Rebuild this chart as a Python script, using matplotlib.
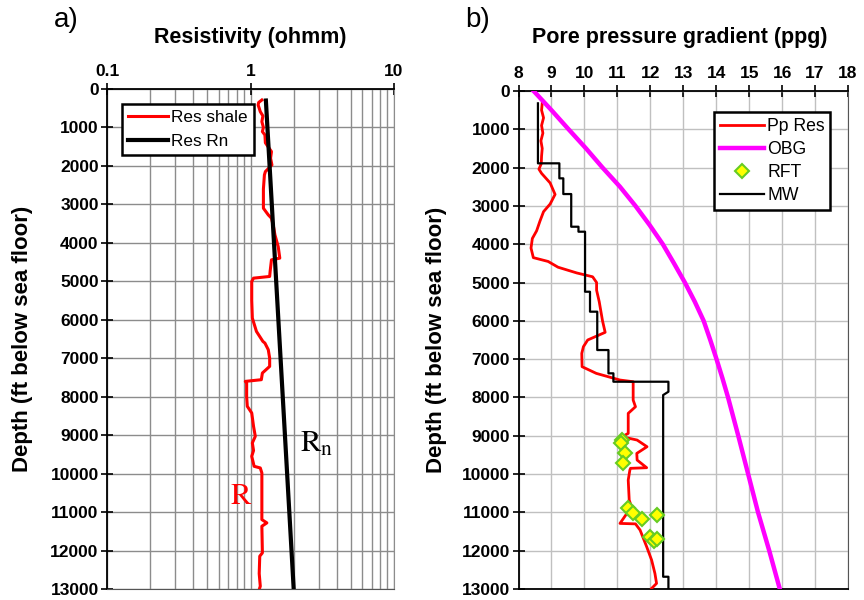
import numpy as np
import matplotlib
matplotlib.use("Agg")
import matplotlib.pyplot as plt
from matplotlib.ticker import LogLocator, NullFormatter, FixedLocator

plt.rcParams['font.family'] = ['Liberation Sans', 'DejaVu Sans']
plt.rcParams['mathtext.fontset'] = 'stix'

# ==============================
# Panel a) resistivity data
# ==============================
res_depth = [286, 350, 416, 500, 589, 700, 850, 1000, 1108, 1195, 1400, 1628, 1800, 1974,
             2147, 2234, 2600, 3100, 3273, 3359, 3600, 3792, 4100, 4398, 4442, 4745, 4874,
             4918, 5004, 5500, 5957, 6303, 6563, 6606, 6779, 7000, 7212, 7385, 7558,
             7602, 7645, 8000, 8251, 8424, 8771, 9030, 9203, 9400, 9550, 9810, 9853,
             9983, 10500, 11195, 11281, 11368, 12061, 12147, 12600, 12926, 12970]
res_shale = [1.20, 1.14, 1.13, 1.15, 1.17, 1.22, 1.20, 1.23, 1.21, 1.26, 1.27, 1.40, 1.38, 1.41,
             1.27, 1.25, 1.23, 1.23, 1.33, 1.40, 1.45, 1.48, 1.56, 1.60, 1.40, 1.37, 1.36,
             1.05, 1.02, 1.02, 1.03, 1.10, 1.22, 1.26, 1.33, 1.36, 1.36, 1.21, 1.19,
             0.92, 0.94, 0.94, 0.95, 1.02, 1.05, 1.08, 1.03, 1.05, 1.02, 1.06, 1.17,
             1.20, 1.20, 1.20, 1.30, 1.20, 1.21, 1.16, 1.15, 1.17, 1.16]

rn_depth = [300, 13000]
res_rn = [1.28, 2.00]

# ==============================
# Panel b) pore pressure data
# ==============================
pp_depth = [320, 500, 700, 900, 1100, 1300, 1500, 1700, 1900, 2040, 2150, 2400, 2700, 2950,
            3150, 3400, 3650, 3850, 4100, 4350, 4450, 4600, 4750, 4850, 5000, 5200, 5500,
            6000, 6300, 6500, 6675, 6849, 7197, 7371, 7545, 7589, 8068, 8242, 8415,
            8938, 9025, 9112, 9286, 9460, 9634, 9834, 9850, 9895, 10156, 10679, 10853,
            11288, 11300, 11462, 11897, 12245, 12593, 12854, 12984]
pp_res = [8.72, 8.70, 8.76, 8.70, 8.74, 8.68, 8.72, 8.70, 8.69, 8.62, 8.70, 8.96, 9.11, 8.96,
          8.76, 8.65, 8.55, 8.42, 8.38, 8.45, 8.90, 9.20, 9.77, 10.25, 10.37, 10.37, 10.45,
          10.55, 10.63, 10.10, 9.97, 9.92, 9.93, 10.36, 11.08, 11.48, 11.48, 11.55, 11.33,
          11.33, 11.14, 11.60, 11.90, 11.59, 11.60, 11.89, 11.40, 11.38, 11.33, 11.36, 11.43,
          11.08, 11.55, 11.69, 11.89, 12.04, 12.14, 12.19, 12.04]

obg_depth = [0, 500, 1000, 1500, 2000, 2500, 3000, 3500, 4000, 4500, 5000, 5500, 6000,
             6500, 7000, 7500, 8000, 9000, 10000, 11000, 12000, 13000]
obg = [8.46, 9.00, 9.52, 10.05, 10.55, 11.08, 11.55, 11.98, 12.38, 12.72, 13.05, 13.35,
       13.62, 13.82, 14.01, 14.19, 14.36, 14.67, 14.97, 15.27, 15.61, 15.93]

mw_depth = [322, 1888, 1888, 2280, 2280, 2690, 2690, 3543, 3543, 3673, 3673, 5240, 5240,
            5761, 5761, 6762, 6762, 7370, 7370, 7589, 7589, 7850, 7937, 12680, 12680, 13000]
mw = [8.59, 8.59, 9.24, 9.24, 9.36, 9.36, 9.60, 9.60, 9.82, 9.82, 10.02, 10.02, 10.17,
      10.17, 10.39, 10.39, 10.73, 10.73, 10.88, 10.88, 12.55, 12.55, 12.39, 12.39, 12.55, 12.55]

rft_depth = [9112, 9199, 9460, 9721, 10896, 11027, 11183, 11070, 11653, 11741, 11700]
rft = [11.13, 11.10, 11.23, 11.16, 11.33, 11.48, 11.74, 12.21, 11.99, 12.11, 12.20]

depth_ticks = np.arange(0, 14000, 1000)

fig = plt.figure(figsize=(8.64, 6.0), dpi=100)

# ==============================
# Panel a)
# ==============================
ax1 = fig.add_axes([107 / 864, 11 / 600, 287 / 864, 500 / 600])
ax1.set_xscale('log')
ax1.set_xlim(0.1, 10)
ax1.set_ylim(13000, 0)
ax1.xaxis.set_major_locator(FixedLocator([0.1, 1, 10]))
ax1.xaxis.set_minor_locator(LogLocator(base=10, subs=np.arange(2, 10)))
ax1.xaxis.set_minor_formatter(NullFormatter())
ax1.set_xticklabels(['0.1', '1', '10'])
ax1.set_yticks(depth_ticks)
ax1.grid(True, which='both', axis='x', color='#8c8c8c', lw=1.0)
ax1.grid(True, which='major', axis='y', color='#8c8c8c', lw=1.0)
ax1.xaxis.tick_top()
ax1.tick_params(axis='x', which='major', direction='inout', length=8, width=1.2,
                labelsize=12.5, pad=3)
ax1.tick_params(axis='x', which='minor', length=0)
ax1.tick_params(axis='y', direction='inout', length=8, width=1.2, labelsize=12.5, pad=2)
for lab in ax1.get_xticklabels() + ax1.get_yticklabels():
    lab.set_fontweight('bold')
ax1.spines['top'].set_linewidth(1.3)
ax1.spines['left'].set_linewidth(1.3)
ax1.spines['right'].set_color('#8c8c8c')
ax1.spines['bottom'].set_color('#555555')

ax1.plot(res_shale, res_depth, color='#ff0000', lw=2.2, label='Res shale', zorder=3)
ax1.plot(res_rn, rn_depth, color='black', lw=3.0, label='Res Rn', zorder=4)
leg1 = ax1.legend(loc='upper left', bbox_to_anchor=(0.054, 0.97), fontsize=12.3,
                  fancybox=False, framealpha=1, edgecolor='black', handlelength=2.3,
                  borderpad=0.35, labelspacing=0.5, handletextpad=0.2, borderaxespad=0)
leg1.get_frame().set_linewidth(1.8)

ax1.text(2.2, 9430, r'$\mathrm{R_n}$', fontsize=22, color='black', va='baseline')
ax1.text(0.72, 10800, r'$\mathrm{R}$', fontsize=22, color='#ff0000', va='baseline')
ax1.set_ylabel('Depth (ft below sea floor)', fontsize=16, fontweight='bold')
ax1.yaxis.set_label_coords(-0.258, 0.5)

# ==============================
# Panel b)
# ==============================
ax2 = fig.add_axes([518.5 / 864, 11 / 600, 329.5 / 864, 498 / 600])
ax2.set_xlim(8, 18)
ax2.set_ylim(13000, 0)
ax2.set_xticks(np.arange(8, 19, 1))
ax2.set_yticks(depth_ticks)
ax2.grid(True, color='#c0c0c0', lw=1.0)
ax2.xaxis.tick_top()
ax2.tick_params(axis='x', direction='inout', length=8, width=1.2, labelsize=12.5, pad=3)
ax2.tick_params(axis='y', direction='inout', length=8, width=1.2, labelsize=12.5, pad=2)
for lab in ax2.get_xticklabels() + ax2.get_yticklabels():
    lab.set_fontweight('bold')
ax2.spines['top'].set_linewidth(1.3)
ax2.spines['left'].set_linewidth(1.3)
ax2.spines['right'].set_color('#555555')
ax2.spines['bottom'].set_linewidth(1.3)

ax2.plot(pp_res, pp_depth, color='#ff0000', lw=2.0, label='Pp Res', zorder=3)
ax2.plot(obg, obg_depth, color='#ff00ff', lw=3.2, label='OBG', zorder=3)
ax2.plot(rft, rft_depth, ls='none', marker='D', ms=7, mfc='#ffff00', mec='#66cc22',
         mew=1.5, label='RFT', zorder=5)
ax2.plot(mw, mw_depth, color='black', lw=1.6, label='MW', zorder=4)
leg2 = ax2.legend(loc='upper right', bbox_to_anchor=(0.946, 0.957), fontsize=12.7,
                  fancybox=False, framealpha=1, edgecolor='black', handlelength=2.5,
                  borderpad=0.3, labelspacing=0.35, handletextpad=0.2, borderaxespad=0)
leg2.get_frame().set_linewidth(1.8)
ax2.set_ylabel('Depth (ft below sea floor)', fontsize=16, fontweight='bold')
ax2.yaxis.set_label_coords(-0.217, 0.5)

# ==============================
# Titles and panel labels
# ==============================
fig.text(250 / 864, 1 - 37 / 600, 'Resistivity (ohmm)', fontsize=15.5, fontweight='bold',
         ha='center', va='center')
fig.text(680 / 864, 1 - 37 / 600, 'Pore pressure gradient (ppg)', fontsize=15.5,
         fontweight='bold', ha='center', va='center')
fig.text(54 / 864, 1 - 20 / 600, 'a)', fontsize=20, ha='left', va='center')
fig.text(465 / 864, 1 - 20 / 600, 'b)', fontsize=20, ha='left', va='center')

fig.savefig('out.png', dpi=100)
